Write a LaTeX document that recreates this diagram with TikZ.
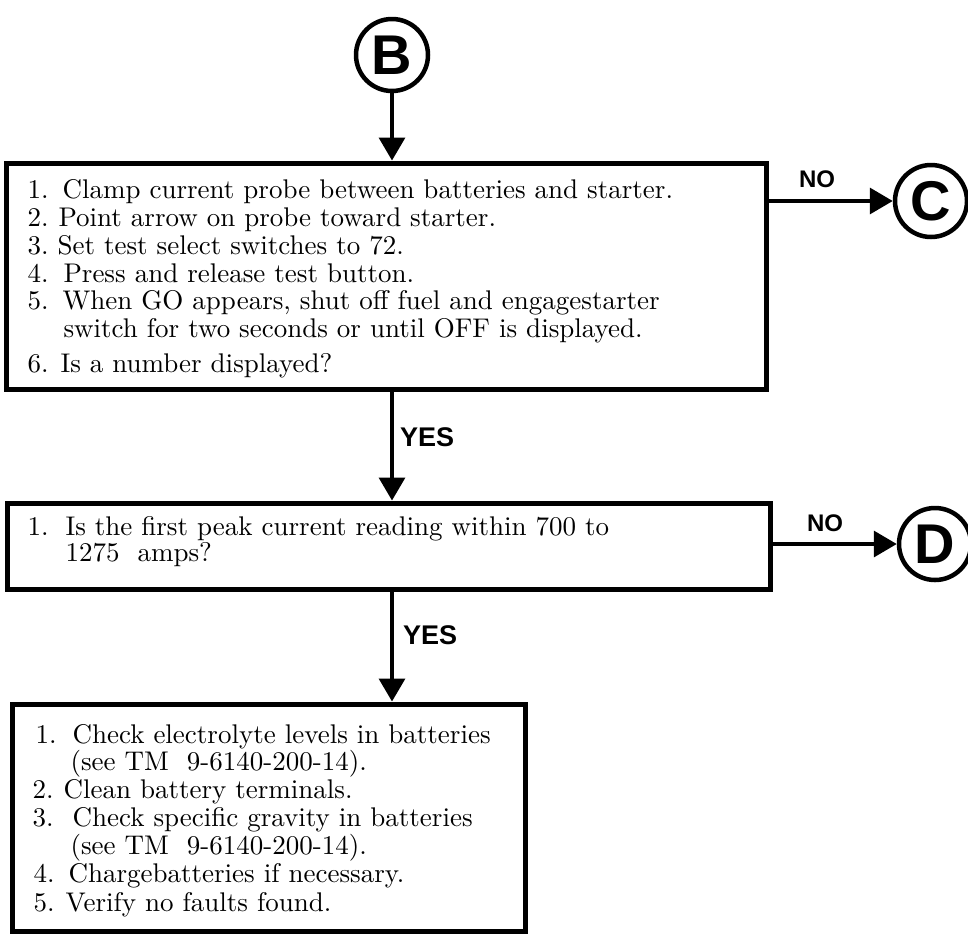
\documentclass[tikz,border=0pt]{standalone}
\usepackage{fontspec}
\newfontfamily\lsans{Liberation Sans}
\usetikzlibrary{arrows.meta}
\newcommand{\nb}[2]{\makebox[\dimexpr #1pt*10/27\relax][l]{#2}}
\tikzset{
  box/.style={draw, line width=5pt, rectangle, inner sep=0pt},
  txt/.style={anchor=base west, inner sep=0pt, scale=2.7, font=\fontsize{10}{12}\selectfont},
  conn/.style={draw, circle, line width=4.5pt, minimum size=72pt, inner sep=0pt, font=\lsans\bfseries\fontsize{56}{56}\selectfont},
  arr/.style={line width=3.5pt, -{Triangle[length=23pt,width=26pt]}},
  yeslbl/.style={anchor=west, inner sep=0pt, font=\lsans\bfseries\fontsize{27}{27}\selectfont},
  nolbl/.style={inner sep=0pt, font=\lsans\bfseries\fontsize{24}{24}\selectfont}
}
\begin{document}
\begin{tikzpicture}[x=1pt,y=-1pt]
\useasboundingbox (0,0) rectangle (968,935);
% connectors (circles)
\node[conn] (b) at (392,55) {B};
\node[conn] (c) at (931,201) {C};
\node[conn] (d) at (935,544) {D};
% boxes
\node[box, minimum width=760pt, minimum height=226pt] (box1) at (386,276) {};
\node[box, minimum width=763pt, minimum height=86pt] (box2) at (388.5,546) {};
\node[box, minimum width=513pt, minimum height=227pt] (box3) at (268.5,817.5) {};
% box 1 text
\node[txt] (t11) at (27,198) {\nb{35}{1.}Clamp current probe between batteries and starter.};
\node[txt] (t12) at (27,226) {\nb{31}{2.}Point arrow on probe toward starter.};
\node[txt] (t13) at (27,254) {\nb{30}{3.}Set test select switches to 72.};
\node[txt] (t14) at (27,282) {\nb{36}{4.}Press and release test button.};
\node[txt] (t15) at (27,309) {\nb{35}{5.}When GO appears, shut off fuel and engagestarter};
\node[txt] (t16) at (63,337) {switch for two seconds or until OFF is displayed.};
\node[txt] (t17) at (27,372) {\nb{33}{6.}Is a number displayed?};
% box 2 text
\node[txt] (t21) at (27,535) {\nb{38}{1.}Is the first peak current reading within 700 to};
\node[txt] (t22) at (65,561) {1275\ \ amps?};
% box 3 text
\node[txt] (t31) at (35,743) {\nb{37}{1.}Check electrolyte levels in batteries};
\node[txt] (t32) at (70,770) {(see TM\ \ 9-6140-200-14).};
\node[txt] (t33) at (32,798) {\nb{31}{2.}Clean battery terminals.};
\node[txt] (t34) at (32,826) {\nb{40}{3.}Check specific gravity in batteries};
\node[txt] (t35) at (70,854) {(see TM\ \ 9-6140-200-14).};
\node[txt] (t36) at (33,882) {\nb{35}{4.}Chargebatteries if necessary.};
\node[txt] (t37) at (33,911) {\nb{32}{5.}Verify no faults found.};
% labels
\node[yeslbl] (yes1) at (400,437) {YES};
\node[yeslbl] (yes2) at (403,635) {YES};
\node[nolbl] (no1) at (817,179) {NO};
\node[nolbl] (no2) at (825,523) {NO};
% arrows
\draw[arr] (b) -- (b |- box1.north);
\draw[arr] (box1.south -| b) -- (box2.north -| b);
\draw[arr] (box2.south -| b) -- (box3.north -| b);
\draw[arr] (box1.east |- c) -- (c);
\draw[arr] (box2.east |- d) -- (d);
\end{tikzpicture}
\end{document}
